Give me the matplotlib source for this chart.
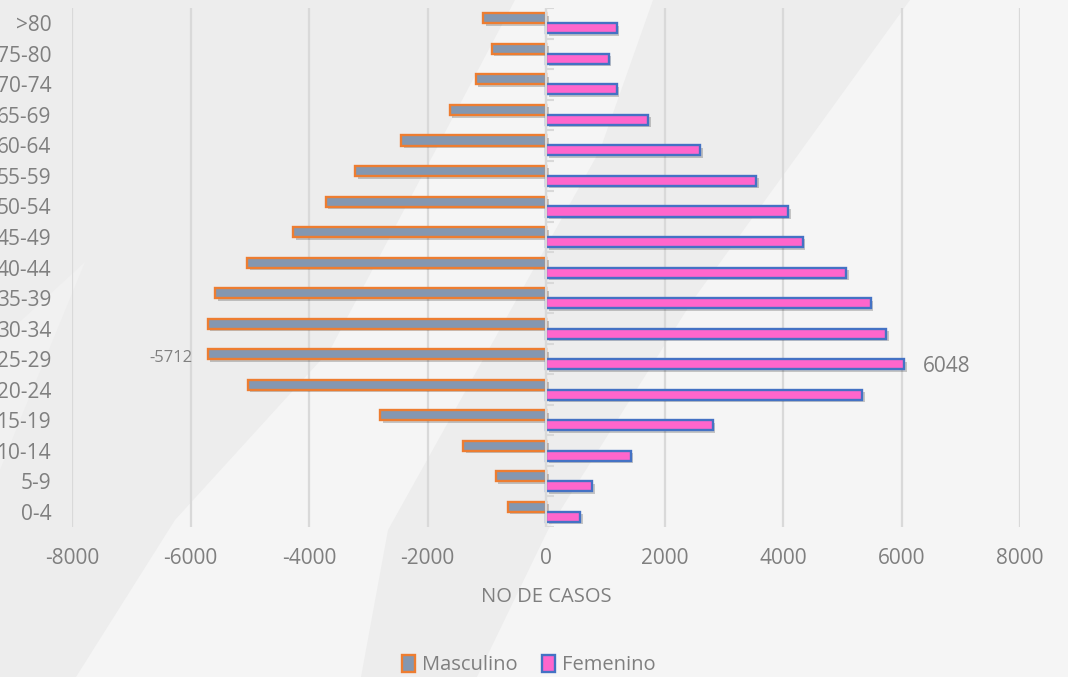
import matplotlib
matplotlib.use("Agg")
import matplotlib.pyplot as plt
import matplotlib.patheffects as pe
from matplotlib.patches import Polygon, Patch
import numpy as np

categories = ['0-4', '5-9', '10-14', '15-19', '20-24', '25-29', '30-34', '35-39',
              '40-44', '45-49', '50-54', '55-59', '60-64', '65-69', '70-74', '75-80', '>80']
masculino = [-647, -850, -1395, -2800, -5035, -5712, -5711, -5580, -5040, -4265,
             -3718, -3220, -2440, -1628, -1188, -916, -1062]
femenino = [579, 783, 1428, 2812, 5340, 6048, 5745, 5478, 5068, 4330, 4090, 3546,
            2601, 1729, 1191, 1057, 1191]
xticks = [-8000, -6000, -4000, -2000, 0, 2000, 4000, 6000, 8000]
series_names = ['Masculino', 'Femenino']

W, H = 1068, 677
DPI = 100
plt.rcParams['font.family'] = ['Open Sans', 'DejaVu Sans']
TXT = '#7f7f7f'

fig = plt.figure(figsize=(W / DPI, H / DPI), dpi=DPI)
fig.patch.set_facecolor('#ededed')

def px_poly(pts, color, z=-10):
    p = Polygon([(x / W, 1 - y / H) for x, y in pts], closed=True,
                transform=fig.transFigure, facecolor=color, edgecolor='none', zorder=z)
    fig.patches.append(p)

LIGHT = '#f5f5f5'
# decorative background stripes
px_poly([(515, 0), (330, 350), (175, 520), (76, 677), (361, 677), (388, 530), (600, 150), (653, 0)], LIGHT)
px_poly([(910, 0), (693, 300), (548, 530), (477, 677), (1068, 677), (1068, 0)], LIGHT)
px_poly([(85, 262), (0, 340), (0, 470), (20, 420)], '#f1f1f1')

ax = fig.add_axes([72 / W, 1 - 527 / H, (1020 - 72) / W, (527 - 8) / H])
ax.set_facecolor('none')

y = np.arange(len(categories))
h = 0.33
shadow = [pe.SimplePatchShadow(offset=(1.8, -1.8), shadow_rgbFace='black', alpha=0.2), pe.Normal()]

bm = ax.barh(y + 0.16, masculino, height=h, color='#8497b0', edgecolor='#ed7d31',
             linewidth=1.7, zorder=3)
bf = ax.barh(y - 0.165, femenino, height=h, color='#ff66cc', edgecolor='#4472c4',
             linewidth=1.7, zorder=3)
for b in list(bm) + list(bf):
    b.set_path_effects(shadow)

ax.set_xlim(xticks[0], xticks[-1])
ax.set_ylim(-0.5, len(categories) - 0.5)
ax.set_xticks(xticks)
ax.set_xticklabels([str(v) for v in xticks])
ax.set_yticks(y)
ax.set_yticklabels(categories)
ax.tick_params(axis='both', length=0, colors=TXT, labelsize=15)
ax.tick_params(axis='y', pad=15)
ax.tick_params(axis='x', pad=15)
for s in ax.spines.values():
    s.set_visible(False)
ax.grid(axis='x', color='#d9d9d9', linewidth=1.6, zorder=0)
ax.set_axisbelow(True)

# vertical category axis at zero with small tick marks
ax.axvline(0, color='#d9d9d9', linewidth=1.5, zorder=4)
bounds = np.arange(len(categories) + 1) - 0.5
ax.hlines(bounds, 0, 130, color='#d9d9d9', linewidth=1.5, zorder=4)

ax.set_xlabel('NO DE CASOS', color=TXT, fontsize=14.5, labelpad=13)

# data labels
ax.annotate(str(masculino[5]), xy=(masculino[5], 5 + 0.16), xytext=(-11, -3),
            textcoords='offset points', ha='right', va='center', fontsize=12, color='#808080')
ax.annotate(str(femenino[5]), xy=(femenino[5], 5 - 0.165), xytext=(13, -2),
            textcoords='offset points', ha='left', va='center', fontsize=15, color=TXT)

handles = [Patch(facecolor='#8497b0', edgecolor='#ed7d31', linewidth=1.7),
           Patch(facecolor='#ff66cc', edgecolor='#4472c4', linewidth=1.7)]
leg = fig.legend(handles, series_names, loc='center', bbox_to_anchor=(0.495, 1 - 665 / H),
                 ncol=2, frameon=False, fontsize=14.5, handlelength=0.65, handleheight=0.9,
                 handletextpad=0.35, columnspacing=1.2, borderaxespad=0)
for t in leg.get_texts():
    t.set_color(TXT)

fig.savefig('out.png', dpi=DPI, facecolor=fig.get_facecolor())
